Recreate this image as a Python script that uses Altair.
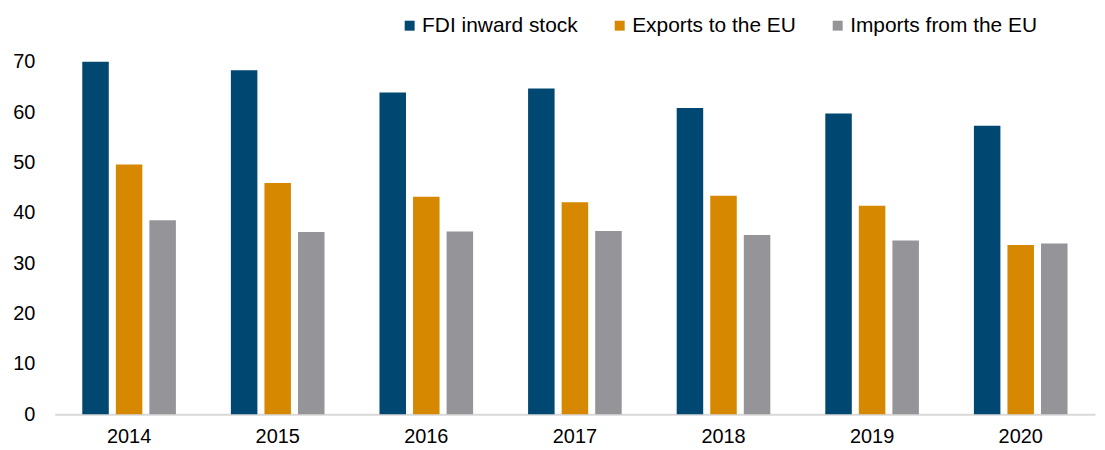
import altair as alt
import pandas as pd

years = ["2014", "2015", "2016", "2017", "2018", "2019", "2020"]
series = ["FDI inward stock", "Exports to the EU", "Imports from the EU"]
fdi = [70.0, 68.3, 63.9, 64.7, 60.8, 59.7, 57.3]
exports = [49.6, 45.9, 43.2, 42.1, 43.4, 41.4, 33.6]
imports = [38.5, 36.2, 36.3, 36.4, 35.6, 34.5, 33.9]
colors = ["#004872", "#D68800", "#949499"]
y_ticks = [0, 10, 20, 30, 40, 50, 60, 70]

rows = []
for s, vals in zip(series, [fdi, exports, imports]):
    for yr, v in zip(years, vals):
        rows.append({"year": yr, "series": s, "value": v})
df = pd.DataFrame(rows)

FONT = "Liberation Sans"

chart = alt.Chart(df).mark_bar().encode(
    x=alt.X(
        "year:N", sort=years,
        scale=alt.Scale(paddingInner=0.37, paddingOuter=0.185),
        axis=alt.Axis(title=None, labelAngle=0, labelFontSize=20, labelColor="#000000",
                      labelFont=FONT, labelPadding=12, ticks=False,
                      domainColor="#D9D9D9", domainWidth=2),
    ),
    xOffset=alt.XOffset("series:N", sort=series,
                        scale=alt.Scale(paddingInner=0.21, paddingOuter=0)),
    y=alt.Y(
        "value:Q",
        scale=alt.Scale(domain=[0, 70], nice=False),
        axis=alt.Axis(title=None, values=y_ticks, grid=False, domain=False, ticks=False,
                      labelFontSize=20, labelColor="#000000", labelFont=FONT, labelPadding=20),
    ),
    color=alt.Color(
        "series:N", sort=series,
        scale=alt.Scale(domain=series, range=colors),
        legend=alt.Legend(title=None, orient="none", legendX=346, legendY=-47,
                          direction="horizontal", symbolType="square", symbolSize=100,
                          symbolStrokeWidth=0, labelFontSize=21, labelFont=FONT,
                          labelColor="#000000", labelOffset=2, labelLimit=400,
                          columnPadding=31),
    ),
).properties(
    width=1045,
    height=354,
    padding={"left": 47, "top": 53, "right": 2, "bottom": 32},
    autosize=alt.AutoSizeParams(type="none"),
).configure_view(stroke=None)

chart.save("out.html", embed_options={"renderer": "svg", "actions": False})
